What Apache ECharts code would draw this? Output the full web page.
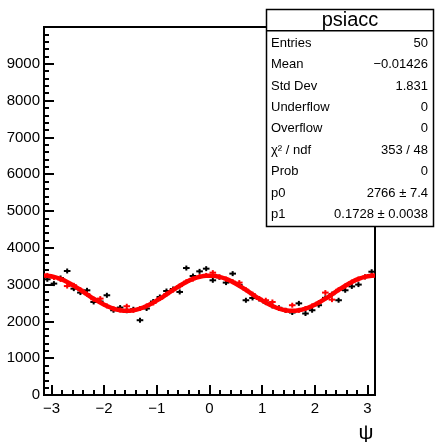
<!DOCTYPE html>
<html><head><meta charset="utf-8">
<script src="https://cdn.jsdelivr.net/npm/echarts@6/dist/echarts.min.js"></script>
<style>html,body{margin:0;padding:0;background:#fff}#c{width:435px;height:442px}</style>
</head><body><div id="c"></div>
<script>
// ---- data ----
const nBins = 50;
const xLow = -Math.PI, xHigh = Math.PI;
const dataValues = [3144,3027,3180,3370,2890,2783,2845,2528,2540,2710,
  2303,2376,2290,2330,2032,2350,2540,2664,2826,2880,
  2800,3450,3233,3360,3433,3117,3200,3054,3298,2990,
  2575,2637,2610,2510,2420,2370,2300,2241,2490,2214,
  2303,2440,2640,2740,2575,2846,2950,3000,3210,3350];
const refValues = [3250,3190,3140,2960,2980,2860,2740,2600,2620,2420,
  2340,2310,2412,2300,2350,2420,2500,2620,2740,2850,
  2960,3080,3150,3220,3250,3325,3210,3150,3080,3054,
  2860,2740,2620,2575,2528,2350,2300,2440,2300,2350,
  2420,2510,2783,2591,2860,2960,3070,3150,3210,3250];
const yErr = 54;
// fit curve values: at x = -pi, each bin centre, and x = pi
const fitValues = [3244,
  3240,3211,3153,3070,2970,2855,2736,2618,2510,2418,2347,2303,2288,2303,2347,2418,2510,2618,2736,2855,2970,3070,3153,3211,3240,
  3240,3211,3153,3070,2970,2855,2736,2618,2510,2418,2347,2303,2288,2303,2347,2418,2510,2618,2736,2855,2970,3070,3153,3211,3240,
  3244];
const statTitle = 'psiacc';
const statLabels = ['Entries','Mean','Std Dev','Underflow','Overflow','\u03C7\u00B2 / ndf','Prob','p0','p1'];
const statValues = ['50','\u22120.01426','1.831','0','0','353 / 48','0','2766 \u00B1 7.4','0.1728 \u00B1 0.0038'];
const xTitle = '\u03C8';

// ---- build ----
const binW = (xHigh - xLow) / nBins;
const centers = dataValues.map((_, i) => xLow + (i + 0.5) * binW);
const fitX = [xLow].concat(centers, [xHigh]);
const FONT = '"Liberation Sans", Arial, sans-serif';

function errItem(color) {
  return function (params, api) {
    const x = api.value(0), y = api.value(1);
    const l = api.coord([x - binW / 2, y]);
    const r = api.coord([x + binW / 2, y]);
    const t = api.coord([x, y + yErr]);
    const b = api.coord([x, y - yErr]);
    const st = { stroke: color, lineWidth: 2 };
    return { type: 'group', children: [
      { type: 'line', shape: { x1: l[0], y1: l[1], x2: r[0], y2: r[1] }, style: st },
      { type: 'line', shape: { x1: t[0], y1: t[1] - 0.5, x2: b[0], y2: b[1] + 0.5 }, style: st }
    ]};
  };
}

const graphics = [];
const bx = 266.5, by = 9.5, bw = 167, rowH = 21.4;
graphics.push({ type: 'rect', shape: { x: bx, y: by, width: bw, height: 217 },
  style: { fill: '#fff', stroke: '#000', lineWidth: 1.5 }, z: 100 });
graphics.push({ type: 'line', shape: { x1: bx, y1: 30.7, x2: bx + bw, y2: 30.7 },
  style: { stroke: '#000', lineWidth: 1.5 }, z: 101 });
graphics.push({ type: 'text', x: bx + bw / 2, y: 20.5, z: 101,
  style: { text: statTitle, font: '20px ' + FONT, fill: '#000', textAlign: 'center', textVerticalAlign: 'middle' } });
statLabels.forEach((s, i) => {
  const yy = 43.3 + i * rowH;
  graphics.push({ type: 'text', x: 271, y: yy, z: 101,
    style: { text: s, font: '13px ' + FONT, fill: '#000', textAlign: 'left', textVerticalAlign: 'middle' } });
  graphics.push({ type: 'text', x: 428, y: yy, z: 101,
    style: { text: statValues[i], font: '13px ' + FONT, fill: '#000', textAlign: 'right', textVerticalAlign: 'middle' } });
});
graphics.push({ type: 'text', x: 366, y: 433, z: 101,
  style: { text: xTitle, font: '21px ' + FONT, fill: '#000', textAlign: 'center', textVerticalAlign: 'middle' } });

const chart = echarts.init(document.getElementById('c'), null, { renderer: 'canvas' });
chart.setOption({
  animation: false,
  backgroundColor: '#fff',
  grid: { left: 44, right: 60, top: 27, bottom: 47, show: true, borderColor: '#000', borderWidth: 2, backgroundColor: 'transparent' },
  xAxis: {
    type: 'value', min: xLow, max: xHigh, splitNumber: 6,
    axisLine: { show: true, onZero: false, lineStyle: { color: '#000', width: 2 } },
    axisTick: { show: true, inside: true, length: 10, lineStyle: { color: '#000', width: 2 } },
    minorTick: { show: true, splitNumber: 5, length: 5, lineStyle: { color: '#000', width: 2 } },
    axisLabel: { color: '#000', fontSize: 15, fontFamily: FONT, margin: 6,
      formatter: v => (Math.abs(v - Math.round(v)) < 1e-6 ? String(Math.round(v)).replace('-', '\u2212') : ''),
      showMinLabel: false, showMaxLabel: false },
    splitLine: { show: false }, minorSplitLine: { show: false }
  },
  yAxis: {
    type: 'value', min: 0, max: 10000, interval: 1000,
    axisLine: { show: true, onZero: false, lineStyle: { color: '#000', width: 2 } },
    axisTick: { show: true, inside: true, length: 10, lineStyle: { color: '#000', width: 2 } },
    minorTick: { show: true, splitNumber: 5, length: 5, lineStyle: { color: '#000', width: 2 } },
    axisLabel: { color: '#000', fontSize: 15, fontFamily: FONT, margin: 4, showMaxLabel: false,
      formatter: v => String(v) },
    splitLine: { show: false }, minorSplitLine: { show: false }
  },
  series: [
    { type: 'custom', renderItem: errItem('#000'), data: centers.map((x, i) => [x, dataValues[i]]), z: 2, clip: true },
    { type: 'custom', renderItem: errItem('#ff0000'), data: centers.map((x, i) => [x, refValues[i]]), z: 3, clip: true },
    { type: 'line', data: fitX.map((x, i) => [x, fitValues[i]]), smooth: 0.3, showSymbol: false,
      lineStyle: { color: '#ff0000', width: 4.5 }, z: 4 }
  ],
  graphic: graphics
});
</script></body></html>
